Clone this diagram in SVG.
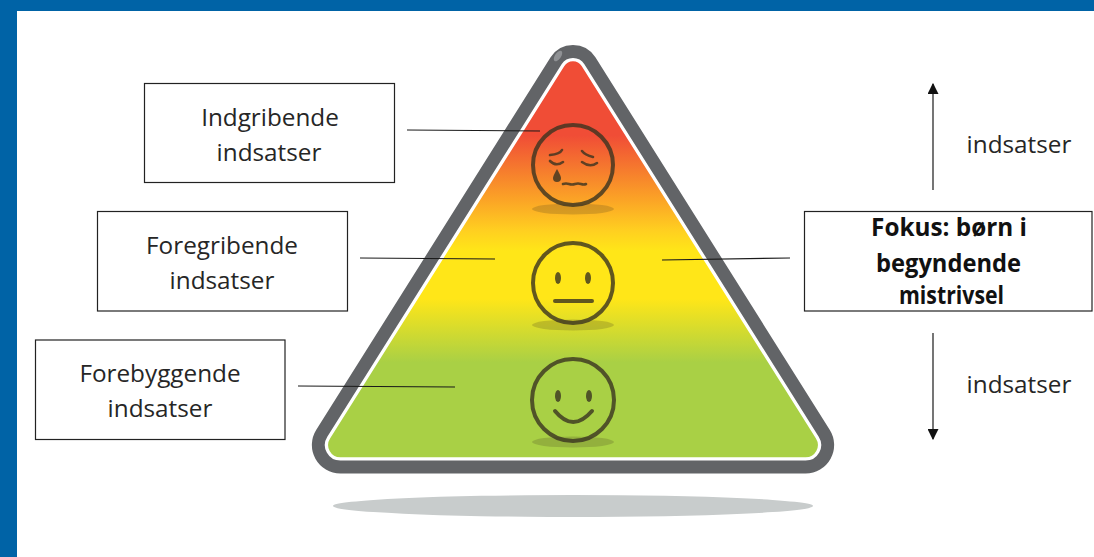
<svg xmlns="http://www.w3.org/2000/svg" width="1094" height="557" viewBox="0 0 1094 557">
<defs>
<style>
.box{fill:#fff;stroke:#222;stroke-width:1.2}
.t{font-family:"Open Sans","Noto Sans",sans-serif;font-size:24.3px;fill:#262626;text-anchor:middle}
.b{font-weight:700;fill:#111}
.con{stroke:#1a1a1a;stroke-width:1.2;fill:none}
.face{fill:none;stroke:#3a3320;stroke-opacity:.8;stroke-width:4;stroke-linecap:round}
.thin{stroke-width:2.6}
.eye{fill:#3a3320;fill-opacity:.8}
.sh{fill:#3a3320;fill-opacity:.2}
</style>
<linearGradient id="g" gradientUnits="userSpaceOnUse" x1="0" y1="60" x2="0" y2="458">
<stop offset="0" stop-color="#f04d36"/>
<stop offset="0.19" stop-color="#f04d36"/>
<stop offset="0.35" stop-color="#fba326"/>
<stop offset="0.43" stop-color="#ffd020"/>
<stop offset="0.48" stop-color="#ffe618"/>
<stop offset="0.6" stop-color="#ffe618"/>
<stop offset="0.76" stop-color="#a9d045"/>
<stop offset="1" stop-color="#a9d045"/>
</linearGradient>
<marker id="ah" viewBox="0 0 10 10" refX="9" refY="5" markerWidth="11" markerHeight="11" markerUnits="userSpaceOnUse" orient="auto"><path d="M0 0L10 5L0 10z" fill="#111"/></marker>
</defs>
<rect width="1094" height="557" fill="#fff"/>
<rect width="1094" height="11" fill="#0063a6"/>
<rect width="17" height="557" fill="#0063a6"/>

<g id="pyramid">
<ellipse cx="573" cy="506" rx="240" ry="11" fill="#c8cccc"/>
<path d="M340.4 467H805.6A22 22 0 0 0 824.2 433.2L589.9 60.8A20 20 0 0 0 556.1 60.8L321.8 433.2A22 22 0 0 0 340.4 467Z" fill="#fff" stroke="#626467" stroke-width="13"/>
<path d="M340.4 458.5H805.6A13.5 13.5 0 0 0 817 437.8L582.7 65.4A11.5 11.5 0 0 0 563.3 65.4L329 437.8A13.5 13.5 0 0 0 340.4 458.5Z" fill="url(#g)" stroke="#fff" stroke-width="2.5"/>
<ellipse cx="558" cy="56" rx="3" ry="6" transform="rotate(35 558 56)" fill="#8f9194"/>
</g>

<g id="face-sad">
<ellipse class="sh" cx="573" cy="209" rx="41" ry="5.5"/>
<circle class="face" cx="573" cy="165" r="40"/>
<path class="face thin" d="M550 155Q560 154 562 150M550 161Q556 167 563 162M593 157Q585 155 582 151M582 162Q590 168 597 163"/>
<path class="eye" d="M557 169Q553 176 553 178A4 4 0 0 0 561 178Q561 176 557 169Z"/>
<path class="face thin" d="M563 184Q566 183 569 184T575 184T581 184T586 184"/>
</g>
<g id="face-neutral">
<ellipse class="sh" cx="573" cy="325" rx="41" ry="5.5"/>
<circle class="face" cx="573" cy="283" r="40"/>
<ellipse class="eye" cx="558" cy="278" rx="3" ry="6"/>
<ellipse class="eye" cx="588" cy="278" rx="3" ry="6"/>
<path class="face" d="M555 301H592"/>
</g>
<g id="face-happy">
<ellipse class="sh" cx="573" cy="442" rx="41" ry="5.5"/>
<circle class="face" cx="573" cy="400" r="41"/>
<ellipse class="eye" cx="558" cy="396" rx="3" ry="6"/>
<ellipse class="eye" cx="589" cy="396" rx="3" ry="6"/>
<path class="face" d="M555 411Q573 433 592 411"/>
</g>

<g id="connectors">
<path class="con" d="M407 130L540 131"/>
<path class="con" d="M360 258L495 259"/>
<path class="con" d="M298 386L455 387"/>
<path class="con" d="M662 260L790 258"/>
<path class="con" d="M933 190V84" marker-end="url(#ah)"/>
<path class="con" d="M933 333V439" marker-end="url(#ah)"/>
</g>

<g id="node-indgribende">
<rect class="box" x="144.5" y="83.5" width="250" height="99"/>
<text class="t" x="270" y="126">Indgribende</text>
<text class="t" x="269" y="161">indsatser</text>
</g>
<g id="node-foregribende">
<rect class="box" x="97.5" y="211.5" width="250" height="99.5"/>
<text class="t" x="222" y="254">Foregribende</text>
<text class="t" x="222" y="289">indsatser</text>
</g>
<g id="node-forebyggende">
<rect class="box" x="35.5" y="340" width="249.5" height="99.5"/>
<text class="t" x="160" y="382">Forebyggende</text>
<text class="t" x="160" y="417">indsatser</text>
</g>
<g id="node-fokus">
<rect class="box" x="804.5" y="211.5" width="287.5" height="99.5"/>
<text class="t b" x="949" y="236">Fokus: børn i</text>
<text class="t b" x="948.5" y="272" textLength="145" lengthAdjust="spacingAndGlyphs">begyndende</text>
<text class="t b" x="951.5" y="304" textLength="105" lengthAdjust="spacingAndGlyphs">mistrivsel</text>
</g>
<g id="label-up"><text class="t" x="1019" y="153">indsatser</text></g>
<g id="label-down"><text class="t" x="1019" y="393">indsatser</text></g>
</svg>
